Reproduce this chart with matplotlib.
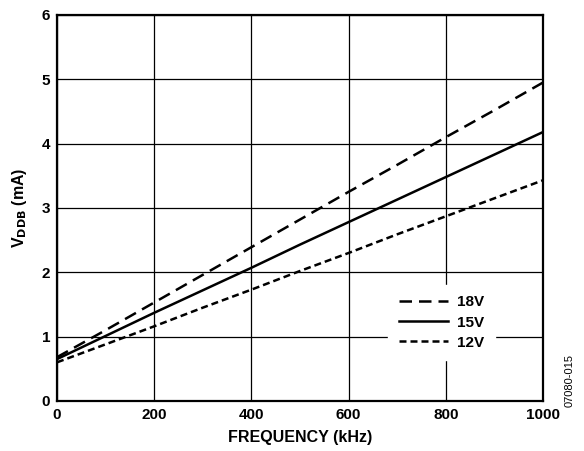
import matplotlib.pyplot as plt

plt.rcParams['font.family'] = ['Liberation Sans', 'DejaVu Sans']
plt.rcParams['font.weight'] = 'bold'

freq = [0, 100, 200, 300, 400, 500, 600, 700, 800, 900, 1000]
i18 = [0.68, 1.10, 1.53, 1.96, 2.39, 2.82, 3.25, 3.67, 4.10, 4.52, 4.95]
i15 = [0.65, 1.01, 1.37, 1.72, 2.07, 2.43, 2.78, 3.13, 3.48, 3.83, 4.18]
i12 = [0.60, 0.88, 1.16, 1.45, 1.73, 2.02, 2.30, 2.59, 2.87, 3.15, 3.43]

fig = plt.figure(figsize=(5.84, 4.51), dpi=100)
ax = fig.add_axes([0.0976, 0.111, 0.8324, 0.856])

ax.plot(freq, i18, color='black', lw=1.8, dashes=(5, 2.8), label='18V')
ax.plot(freq, i15, color='black', lw=1.8, label='15V')
ax.plot(freq, i12, color='black', lw=1.8, dashes=(2.8, 1.6), label='12V')

ax.set_xlim(0, 1000)
ax.set_ylim(0, 6)
ax.set_xticks([0, 200, 400, 600, 800, 1000])
ax.set_yticks([0, 1, 2, 3, 4, 5, 6])
ax.grid(True, color='black', lw=0.9)
ax.tick_params(length=0, labelsize=11, pad=5)
for s in ax.spines.values():
    s.set_linewidth(1.6)

ax.set_xlabel('FREQUENCY (kHz)', fontsize=11.5, fontweight='bold', labelpad=6)
ax.set_ylabel(r'V$_{\mathbf{DDB}}$ (mA)', fontsize=11.5, fontweight='bold', labelpad=9)

leg = ax.legend(loc='lower right', bbox_to_anchor=(0.9, 0.105), frameon=True,
                fontsize=11, handlelength=3.2, handletextpad=0.6,
                labelspacing=0.4, borderpad=0.7, borderaxespad=0)
leg.get_frame().set_edgecolor('white')
leg.get_frame().set_facecolor('white')
leg.get_frame().set_alpha(1)

fig.text(0.976, 0.157, '07080-015', rotation=90, fontsize=8,
         fontweight='normal', ha='center', va='center')

fig.savefig('out.png', dpi=100)
